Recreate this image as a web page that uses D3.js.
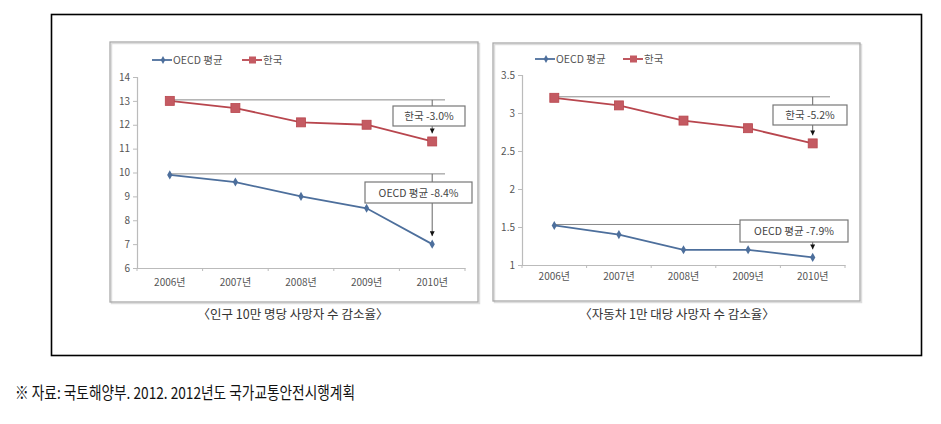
<!DOCTYPE html>
<html><head><meta charset="utf-8">
<script src="https://cdn.jsdelivr.net/npm/d3@7"></script>
<style>body{margin:0;background:#fff}svg{display:block}</style>
</head><body>
<svg id="c" width="941" height="424"></svg>
<script>
const years = ["2006년","2007년","2008년","2009년","2010년"];
const koreaPop = [13.0, 12.7, 12.1, 12.0, 11.3];
const oecdPop = [9.9, 9.6, 9.0, 8.5, 7.0];
const koreaCar = [3.2, 3.1, 2.9, 2.8, 2.6];
const oecdCar = [1.52, 1.4, 1.2, 1.2, 1.1];
const ticksPop = [6,7,8,9,10,11,12,13,14];
const ticksCar = [1,1.5,2,2.5,3,3.5];
const seriesNames = ["OECD 평균","한국"];
const labelsPop = ["한국 -3.0%","OECD 평균 -8.4%"];
const labelsCar = ["한국 -5.2%","OECD 평균 -7.9%"];
const captions = ["〈인구 10만 명당 사망자 수 감소율〉","〈자동차 1만 대당 사망자 수 감소율〉"];
const source = "※ 자료: 국토해양부. 2012. 2012년도 국가교통안전시행계획";

const svg = d3.select("#c");
const FONT = "'Noto Sans CJK KR','Noto Sans',sans-serif";
const RED = "#b8464e", REDM = "#c45a62", BLUE = "#4d6f9c", TXT = "#555";

svg.append("defs").append("marker").attr("id","arr").attr("viewBox","0 0 10 10")
  .attr("refX",10).attr("refY",5).attr("markerWidth",5).attr("markerHeight",5)
  .attr("orient","auto").append("path").attr("d","M0,0L10,5L0,10z").attr("fill","#111");

// outer box
svg.append("rect").attr("x",51.5).attr("y",14.5).attr("width",870).attr("height",341)
  .attr("fill","none").attr("stroke","#000").attr("stroke-width",1.6);

function panel(o){
  const g = svg.append("g");
  g.append("rect").attr("x",o.fx+1.5).attr("y",o.fy+1.5).attr("width",o.fw).attr("height",o.fh)
    .attr("fill","none").attr("stroke","#ddd").attr("stroke-width",1.5);
  g.append("rect").attr("x",o.fx).attr("y",o.fy).attr("width",o.fw).attr("height",o.fh)
    .attr("fill","none").attr("stroke","#aaa").attr("stroke-width",1.3);

  const x = d3.scaleBand().domain(years).range([o.x0,o.x1]);
  const y = d3.scaleLinear().domain(o.dom).range([o.y0,o.y1]);
  const cx = d => x(d)+x.bandwidth()/2;

  const ya = g.append("g").attr("transform",`translate(${o.x0},0)`)
    .call(d3.axisLeft(y).tickValues(o.ticks).tickSize(4).tickFormat(d3.format("")));
  const xa = g.append("g").attr("transform",`translate(0,${o.y0})`)
    .call(d3.axisBottom(x).tickSize(0).tickPadding(o.xpad));
  [ya,xa].forEach(a=>{
    a.select(".domain").attr("stroke","#bbb").attr("stroke-width",1.2);
    a.selectAll(".tick line").attr("stroke","#bbb");
    a.selectAll("text").attr("fill",TXT).style("font-family",FONT).style("font-size","10px");
  });
  g.selectAll(".xt").data(years.concat(["end"])).join("line")
    .attr("x1",(d,i)=>o.x0+i*x.bandwidth()).attr("x2",(d,i)=>o.x0+i*x.bandwidth())
    .attr("y1",o.y0).attr("y2",o.y0+3).attr("stroke","#bbb");

  const xe = o.refEnd;
  const ref = [[o.kor[0],o.kor[4]],[o.oecd[0],o.oecd[4]]];
  ref.forEach(r=>{
    g.append("line").attr("x1",cx(years[0])).attr("x2",xe)
      .attr("y1",y(r[0])-1).attr("y2",y(r[0])-1).attr("stroke","#888").attr("stroke-width",1);
    g.append("line").attr("x1",cx(years[4])).attr("x2",cx(years[4]))
      .attr("y1",y(r[0])-1).attr("y2",y(r[1])-8).attr("stroke","#666").attr("stroke-width",1)
      .attr("marker-end","url(#arr)");
  });

  const line = d3.line().x((d,i)=>cx(years[i])).y(d=>y(d));
  g.append("path").datum(o.oecd).attr("d",line).attr("fill","none").attr("stroke",BLUE).attr("stroke-width",1.8);
  g.append("path").datum(o.kor).attr("d",line).attr("fill","none").attr("stroke",RED).attr("stroke-width",1.8);
  g.selectAll(".om").data(o.oecd).join("path")
    .attr("transform",(d,i)=>`translate(${cx(years[i])},${y(d)})`)
    .attr("d",d3.symbol(d3.symbolDiamond,24)).attr("fill",BLUE);
  g.selectAll(".km").data(o.kor).join("rect")
    .attr("x",(d,i)=>cx(years[i])-4.5).attr("y",d=>y(d)-4.5).attr("width",9).attr("height",9)
    .attr("fill",REDM).attr("stroke",RED).attr("stroke-width",0.8);

  o.boxes.forEach((b,i)=>{
    g.append("rect").attr("x",b[0]).attr("y",b[1]).attr("width",b[2]).attr("height",b[3])
      .attr("fill","#fff").attr("stroke","#777").attr("stroke-width",1.2);
    g.append("text").attr("x",b[0]+b[2]/2).attr("y",b[1]+b[3]/2+4).attr("text-anchor","middle")
      .attr("fill","#444").style("font-family",FONT).style("font-size","10.5px").text(o.labels[i]);
  });

  const L = o.legend;
  [[BLUE,seriesNames[0],L.x1,"d"],[RED,seriesNames[1],L.x2,"s"]].forEach(([c,t,lx,m])=>{
    g.append("line").attr("x1",lx).attr("x2",lx+20).attr("y1",L.y).attr("y2",L.y).attr("stroke",c).attr("stroke-width",1.8);
    if(m==="d") g.append("path").attr("transform",`translate(${lx+11},${L.y})`).attr("d",d3.symbol(d3.symbolDiamond,18)).attr("fill",c);
    else g.append("rect").attr("x",lx+7).attr("y",L.y-3.5).attr("width",7).attr("height",7).attr("fill",REDM);
    g.append("text").attr("x",lx+21).attr("y",L.y+4).attr("fill",TXT)
      .style("font-family",FONT).style("font-size","10.5px").text(t);
  });

  g.append("text").attr("x",o.capX).attr("y",319).attr("text-anchor","middle").attr("fill","#333")
    .style("font-family",FONT).style("font-size","12.5px").text(o.caption);
}

panel({fx:110,fy:42,fw:368,fh:260,x0:137,x1:465,y0:268,y1:77,dom:[6,14],ticks:ticksPop,
  kor:koreaPop,oecd:oecdPop,refEnd:445,xpad:11,
  boxes:[[393,106,72,20],[365,182,107,21]],labels:labelsPop,
  legend:{x1:152,x2:242,y:60},capX:293,caption:captions[0]});
panel({fx:493,fy:43,fw:367,fh:258,x0:522,x1:845,y0:265,y1:75,dom:[1,3.5],ticks:ticksCar,
  kor:koreaCar,oecd:oecdCar,refEnd:830,xpad:8,
  boxes:[[773,105,74,20],[740,220,108,22]],labels:labelsCar,
  legend:{x1:535,x2:623,y:59},capX:677,caption:captions[1]});

svg.append("text").attr("x",15).attr("y",399).attr("fill","#111")
  .style("font-family","'Noto Sans CJK KR',serif").style("font-size","16.5px").style("font-weight","400")
  .attr("textLength",340).attr("lengthAdjust","spacingAndGlyphs").text(source);
</script>
</body></html>
